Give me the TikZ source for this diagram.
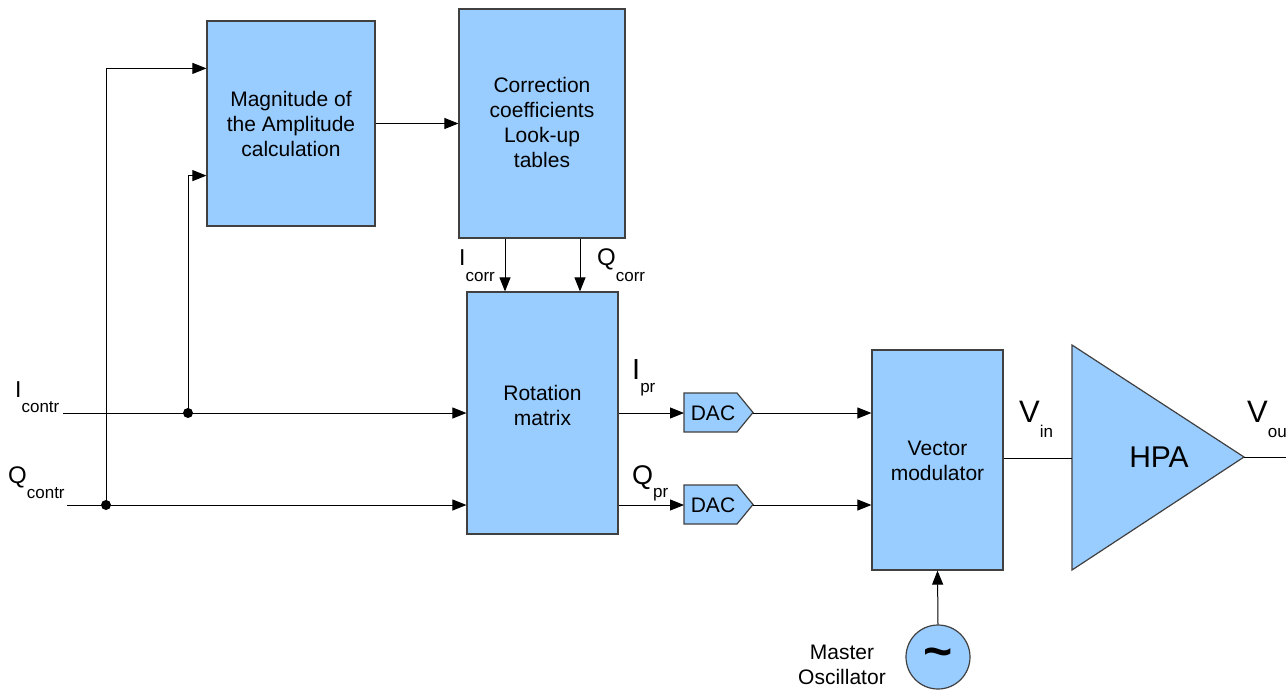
\documentclass[tikz,border=0pt]{standalone}
\usepackage{fontspec}
\setmainfont{Liberation Sans}
\usetikzlibrary{arrows.meta}
\definecolor{bl}{HTML}{99CCFF}
\newcommand\sg[4]{{\fontsize{#1}{#1}\selectfont #2}\raisebox{-#4pt}{\fontsize{17}{17}\selectfont #3}}
\tikzset{
  block/.style={draw=black!75, fill=bl, line width=1.2pt, inner sep=0pt},
  btext/.style={align=center, font=\fontsize{21}{25}\selectfont, inner sep=0pt},
  arr/.style={-{Triangle[length=14pt,width=11pt]}, line width=1pt},
  wire/.style={line width=1pt},
  dot/.style={circle, fill=black, inner sep=0pt, minimum size=10pt},
  lab/.style={anchor=base west, inner sep=0pt},
}
\begin{document}
\begin{tikzpicture}[x=1pt,y=-1pt]
\useasboundingbox (0,0) rectangle (1286,691);
% blocks
\node[block, minimum width=168pt, minimum height=205pt] (mag) at (291,123.5) {};
\node[btext] (magt) at (291,124) {Magnitude of\\the Amplitude\\calculation};
\node[block, minimum width=166pt, minimum height=229pt] (cor) at (542,123.5) {};
\node[btext] (cort) at (542,122) {Correction\\coefficients\\Look-up\\tables};
\node[block, minimum width=151pt, minimum height=242pt] (rot) at (542.5,413) {};
\node[btext] (rott) at (542.5,405) {Rotation\\matrix};
\node[block, minimum width=131pt, minimum height=220pt] (vm) at (937.5,460) {};
\node[btext] (vmt) at (937.5,461) {Vector\\modulator};
% DACs
\draw[block] (684,393) -- (737,393) -- (753,412.5) -- (737,432) -- (684,432) -- cycle;
\node[btext] (dac1) at (713,413) {DAC};
\coordinate (dac1in) at (684,413);
\coordinate (dac1out) at (753,413);
\draw[block] (684,485) -- (737,485) -- (753,504.5) -- (737,524) -- (684,524) -- cycle;
\node[btext] (dac2) at (713,505) {DAC};
\coordinate (dac2in) at (684,505);
\coordinate (dac2out) at (753,505);
% HPA
\draw[block] (1072,345) -- (1244,457) -- (1072,570) -- cycle;
\node[btext, font=\fontsize{30}{30}\selectfont] (hpa) at (1159,457) {HPA};
\coordinate (hpain) at (1072,458);
\coordinate (hpaout) at (1244,457);
\coordinate (voutend) at (1290,457);
% oscillator
\node[block, circle, minimum size=64pt] (osc) at (938,657) {};
\node[inner sep=0pt, font=\fontsize{50}{50}\selectfont\bfseries] (tl) at (938,658) {\textasciitilde};
\node[btext] (mo) at (842,665) {Master\\Oscillator};
% inputs
\coordinate (iin) at (63,413);
\coordinate (qin) at (67,505);
\node[dot] (idot) at (188,413) {};
\node[dot] (qdot) at (106,505) {};
% connectors
\draw[arr] (iin) -- (rot.west |- iin);
\draw[arr] (qin) -- (rot.west |- qin);
\draw[arr] (qdot.center) |- ([yshift=-48pt]mag.north west);
\draw[arr] (idot.center) |- ([yshift=51pt]mag.south west);
\draw[arr] (mag.east) -- (cor.west |- mag.east);
\draw[arr] ([xshift=-37pt]cor.south) -- ([xshift=-37pt]cor.south |- rot.north);
\draw[arr] ([xshift=38pt]cor.south) -- ([xshift=38pt]cor.south |- rot.north);
\draw[arr] (rot.east |- dac1in) -- (dac1in);
\draw[arr] (rot.east |- dac2in) -- (dac2in);
\draw[arr] (dac1out) -- (vm.west |- dac1out);
\draw[arr] (dac2out) -- (vm.west |- dac2out);
\draw[wire] (vm.east |- hpain) -- (hpain);
\draw[wire] (hpaout) -- (voutend);
\draw[arr] (osc.north) -- (vm.south);
% labels
\node[lab] (licontr) at (15,397) {\sg{23}{I}{contr}{15}};
\node[lab] (lqcontr) at (8,483) {\sg{24}{Q}{contr}{15}};
\node[lab] (licorr) at (459,265) {\sg{23}{I}{corr}{16}};
\node[lab] (lqcorr) at (597,265) {\sg{24}{Q}{corr}{16}};
\node[lab] (lipr) at (632,379) {\sg{29}{I}{pr}{13}};
\node[lab] (lqpr) at (632,484) {\sg{27}{Q}{pr}{13}};
\node[lab] (lvin) at (1019,422) {\sg{31}{V}{in}{15}};
\node[lab] (lvout) at (1247,422) {\sg{31}{V}{out}{15}};
\end{tikzpicture}
\end{document}
